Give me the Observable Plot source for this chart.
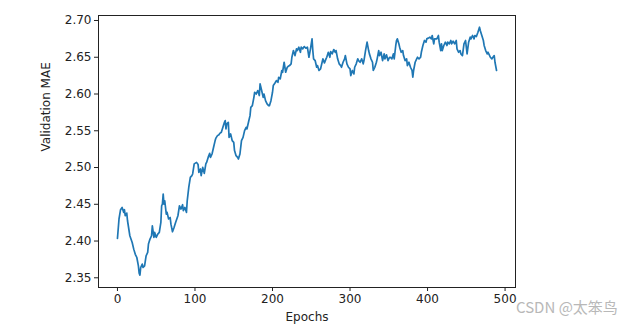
<!DOCTYPE html>
<html>
<head>
<meta charset="utf-8">
<script src="https://cdn.jsdelivr.net/npm/d3@7"></script>
<script src="https://cdn.jsdelivr.net/npm/@observablehq/plot@0.6"></script>
<style>
  html, body { margin: 0; padding: 0; background: #fff; }
  #wrap { position: relative; width: 623px; height: 327px; }
  #wm { position: absolute; left: 516px; top: 296px; font-family: "Noto Sans CJK SC", "DejaVu Sans", sans-serif; font-size: 15px; color: #b8b8b8; white-space: nowrap; }
</style>
</head>
<body>
<div id="wrap"><div id="wm">CSDN @太笨鸟</div></div>
<script>
const epochs = [0,2,4,6,8,9,10,12,13,16,19,21,23,25,27,28,29,30,32,33,35,37,39,40,42,44,45,47,48,50,52,54,56,57,58,59,60,61,63,64,66,68,69,71,73,75,
  78,80,82,84,85,87,89,90,92,94,96,97,99,102,104,105,107,108,110,112,114,115,117,119,120,122,124,126,127,129,131,132,134,136,138,139,140,141,143,144,146,148,150,151,153,155,156,158,
  160,162,164,166,167,169,171,172,174,176,177,179,181,183,184,186,188,189,191,193,195,196,198,200,201,203,205,207,208,210,212,213,215,217,219,220,222,224,225,227,229,231,232,234,236,237,239,241,243,
  245,247,249,251,252,253,255,257,258,260,262,264,265,267,269,270,272,274,275,277,279,281,282,284,286,288,289,291,293,294,296,298,300,301,303,305,306,308,310,311,313,315,317,318,320,322,324,325,327,329,330,332,334,335,
  337,338,340,342,344,345,347,349,351,352,354,356,357,359,360,361,363,364,366,368,369,371,373,374,376,378,380,381,382,384,386,387,389,391,392,394,396,398,399,401,403,405,406,408,409,
  412,414,415,417,418,419,421,423,425,426,428,430,431,433,435,437,438,440,442,443,445,447,449,450,451,453,455,456,458,460,461,463,465,467,468,470,472,473,475,477,478,479,481,483,485,486,487,489];
const mae = [2.4035,2.430,2.4426,2.4457,2.439,2.4426,2.4344,2.438,2.4276,2.4072,2.398,2.389,2.382,2.3776,2.3663,2.3564,2.3537,2.364,2.3686,2.364,2.3663,2.380,2.3845,2.396,2.4027,2.4072,2.4208,2.405,2.4117,2.405,2.4095,2.4117,2.4253,2.448,2.4503,2.464,2.4503,2.4548,2.4367,2.439,2.430,2.432,2.423,2.4126,2.4185,2.4253,
  2.4344,2.448,2.4435,2.4494,2.4412,2.4457,2.439,2.4548,2.473,2.4866,2.489,2.4912,2.505,2.507,2.504,2.4934,2.498,2.489,2.5002,2.492,2.505,2.507,2.5138,2.5193,2.5138,2.5184,2.5275,2.5366,2.540,2.5434,2.5447,2.5465,2.548,2.5547,2.5615,2.5638,2.5525,2.5593,2.5615,2.541,2.5457,2.5366,2.5343,2.523,2.5161,2.5138,2.5116,2.5184,
  2.5366,2.541,2.5502,2.5547,2.5525,2.5615,2.5706,2.5819,2.5842,2.5955,2.6024,2.600,2.6047,2.5979,2.6138,2.6047,2.5955,2.600,2.591,2.5866,2.5842,2.5842,2.591,2.6024,2.6115,2.6146,2.6183,2.616,2.6228,2.6206,2.632,2.6296,2.6432,2.6296,2.6364,2.6374,2.6387,2.641,2.650,2.6591,2.6523,2.6615,2.6591,2.6637,2.6568,2.6637,2.6615,2.6646,2.6623,
  2.6637,2.650,2.6615,2.675,2.6591,2.6478,2.6455,2.6364,2.6387,2.632,2.6342,2.6432,2.6478,2.6424,2.6478,2.650,2.6568,2.650,2.6578,2.6546,2.6605,2.6568,2.6591,2.6478,2.641,2.6387,2.6364,2.6432,2.6478,2.6523,2.641,2.6364,2.6342,2.6251,2.632,2.6274,2.6364,2.641,2.6478,2.6455,2.6432,2.6478,2.641,2.6455,2.6591,2.6705,2.6591,2.6546,2.6478,2.6432,2.632,2.6364,2.6432,2.6478,
  2.6591,2.6523,2.6568,2.6455,2.6546,2.6478,2.6533,2.6455,2.650,2.650,2.6478,2.6546,2.6478,2.666,2.6728,2.675,2.6683,2.6637,2.6568,2.6591,2.6523,2.6455,2.6478,2.6387,2.6432,2.6364,2.632,2.6228,2.632,2.6432,2.6478,2.650,2.6478,2.650,2.6568,2.666,2.6728,2.6705,2.675,2.676,2.6773,2.675,2.6796,2.6683,2.675,
  2.675,2.6796,2.6705,2.6591,2.6683,2.6591,2.666,2.6705,2.666,2.6705,2.6683,2.6728,2.6683,2.6718,2.6683,2.6728,2.6615,2.6568,2.6591,2.6546,2.6523,2.6683,2.6728,2.6637,2.6546,2.6705,2.6773,2.675,2.6796,2.675,2.6796,2.6782,2.684,2.6909,2.6864,2.6796,2.6728,2.666,2.6591,2.6546,2.6568,2.6546,2.650,2.6478,2.651,2.6523,2.6432,2.632];
const xTicks = [0, 100, 200, 300, 400, 500];
const yTicks = [2.35, 2.40, 2.45, 2.50, 2.55, 2.60, 2.65, 2.70];
const xLabel = "Epochs";
const yLabel = "Validation MAE";

const data = epochs.map((e, i) => ({epoch: e, mae: mae[i]}));

const chart = Plot.plot({
  width: 623,
  height: 327,
  marginLeft: 98,
  marginRight: 108,
  marginTop: 15,
  marginBottom: 40,
  style: {fontFamily: "DejaVu Sans, sans-serif", fontSize: "12px", background: "#fff", color: "#222"},
  x: {domain: [-24.45, 513.45]},
  y: {domain: [2.3368, 2.7068]},
  marks: [
    Plot.axisX({ticks: xTicks, tickSize: 4, tickPadding: 3, label: null, tickFormat: d3.format("d")}),
    Plot.axisY({ticks: yTicks, tickSize: 4, tickPadding: 3, label: null, tickFormat: d3.format(".2f")}),
    Plot.lineY(data, {x: "epoch", y: "mae", stroke: "#1f77b4", strokeWidth: 1.7}),
    Plot.frame({stroke: "#222", strokeWidth: 1}),
    Plot.text([xLabel], {frameAnchor: "bottom", dy: 33, fill: "#222"}),
    Plot.text([yLabel], {frameAnchor: "left", dx: -52, rotate: -90, fill: "#222"})
  ]
});
document.getElementById("wrap").prepend(chart);
</script>
</body>
</html>
